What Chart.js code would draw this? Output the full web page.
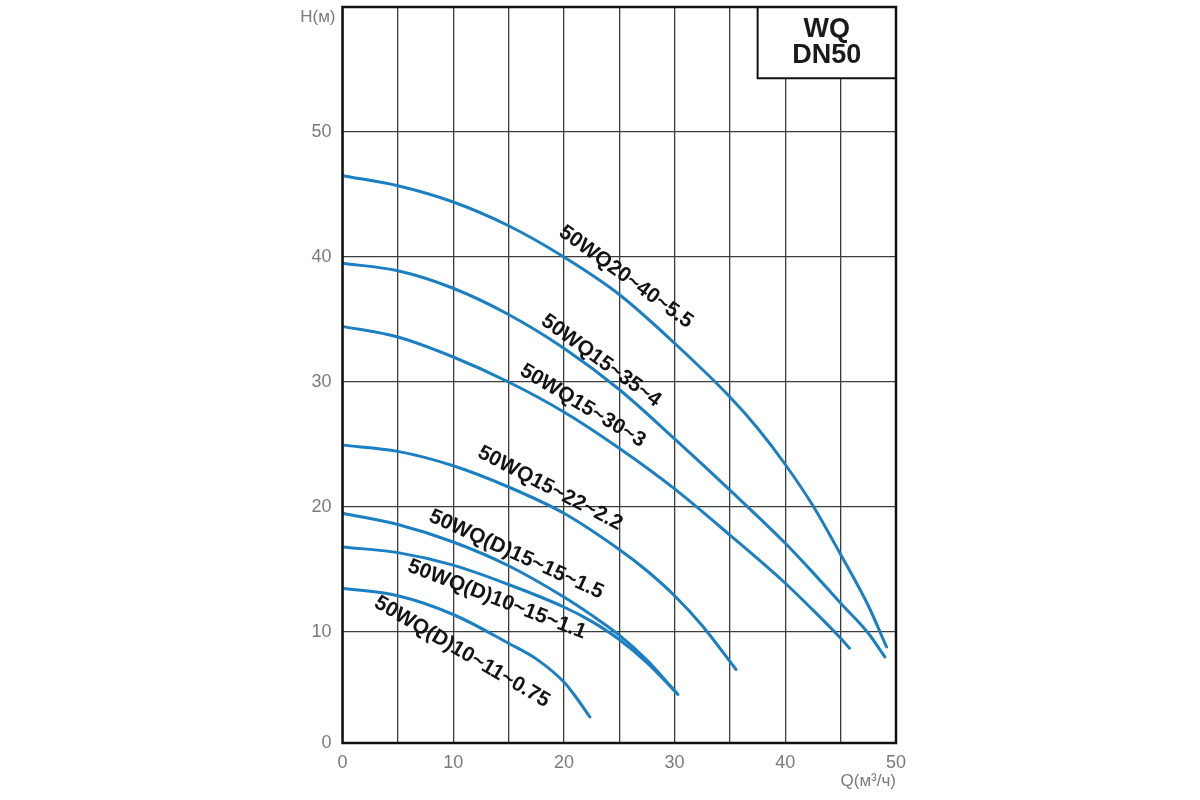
<!DOCTYPE html>
<html>
<head>
<meta charset="utf-8">
<title>WQ DN50</title>
<script src="https://cdn.jsdelivr.net/npm/chart.js@4/dist/chart.umd.min.js"></script>
<style>
  html, body { margin: 0; padding: 0; background: #fff; }
  canvas { display: block; }
</style>
</head>
<body>
<canvas id="pumpChart" width="1200" height="800"></canvas>
<script>
"use strict";

// Curve names (drawn as labels along each curve)
const seriesNames = [
  "50WQ20~40~5.5",
  "50WQ15~35~4",
  "50WQ15~30~3",
  "50WQ15~22~2.2",
  "50WQ(D)15~15~1.5",
  "50WQ(D)10~15~1.1",
  "50WQ(D)10~11~0.75"
];

// Q (m3/h) and H (m), one pair of arrays per pump
const q2040 = [0, 5, 10, 15, 20, 25, 30, 35, 37.5, 40, 42.5, 45, 47.5, 49.15];
const h2040 = [46.5, 45.7, 44.4, 42.5, 40.0, 37.0, 33.1, 28.8, 26.3, 23.4, 20.1, 16.2, 12.1, 8.8];

const q1535 = [0, 5, 10, 15, 20, 25, 30, 35, 40, 42.5, 45, 47.5, 49];
const h1535 = [39.5, 38.9, 37.5, 35.4, 32.7, 29.4, 25.45, 21.35, 17.1, 14.75, 12.3, 9.9, 8.0];

const q1530 = [0, 5, 10, 15, 20, 25, 30, 35, 40, 42.5, 45, 45.8];
const h1530 = [34.45, 33.6, 32.0, 30.0, 27.6, 24.7, 21.45, 17.75, 13.9, 11.75, 9.5, 8.7];

const q1522 = [0, 5, 10, 15, 20, 25, 27.5, 30, 32.5, 35.55];
const h1522 = [24.95, 24.45, 23.3, 21.6, 19.5, 16.6, 14.9, 12.9, 10.5, 7.0];

const q1515 = [0, 5, 10, 15, 20, 22.5, 25, 27.5, 30.3];
const h1515 = [19.5, 18.6, 17.2, 15.3, 12.8, 11.35, 9.75, 7.75, 5.0];

const q1015 = [0, 5, 10, 15, 20, 22.5, 25, 27.5, 30.2];
const h1015 = [16.8, 16.35, 15.35, 13.8, 12.0, 10.85, 9.4, 7.55, 5.1];

const q1011 = [0, 5, 10, 15, 17.5, 20, 21, 22.35];
const h1011 = [13.5, 12.9, 11.4, 9.1, 7.85, 6.0, 4.9, 3.2];

const qSeries = [q2040, q1535, q1530, q1522, q1515, q1015, q1011];
const hSeries = [h2040, h1535, h1530, h1522, h1515, h1015, h1011];

// Label anchor (in data units) and rotation for each curve name
const labelQ = [25.6, 23.35, 21.7, 18.75, 15.7, 13.95, 10.8];
const labelH = [38.4, 31.7, 28.1, 21.5, 16.2, 12.6, 8.4];
const labelAngle = [36, 36, 31, 27.5, 24.4, 21, 30.5];

// Axis ticks
const xTickLabels = [0, 10, 20, 30, 40, 50];
const yTickLabels = [10, 20, 30, 40, 50];
// the original grid's bottom band is short: the "0" sits at about H = 1.1
const yMin = 1.12;
const yMax = 60;

const curveColor = "#1b7fc3";
const gridColor = "#3c3c3c";
const tickColor = "#7a7a7a";
const fontFamily = '"Liberation Sans", Arial, sans-serif';

// Title box corner (data units)
const boxQ = 37.5;
const boxH = 54.3;

const datasets = seriesNames.map((name, i) => ({
  label: name,
  data: qSeries[i].map((q, j) => ({ x: q, y: hSeries[i][j] })),
  borderColor: curveColor,
  borderWidth: 3,
  pointRadius: 0,
  fill: false,
  cubicInterpolationMode: "monotone",
  borderCapStyle: "round"
}));

// Draws frame, title box, axis titles and the curve names
const overlayPlugin = {
  id: "overlay",
  afterDraw(chart) {
    const { ctx, chartArea: a, scales: { x, y } } = chart;
    ctx.save();

    // curve names
    ctx.font = "bold 21px " + fontFamily;
    ctx.fillStyle = "#141414";
    ctx.textAlign = "center";
    ctx.textBaseline = "middle";
    seriesNames.forEach((name, i) => {
      ctx.save();
      ctx.translate(x.getPixelForValue(labelQ[i]), y.getPixelForValue(labelH[i]));
      ctx.rotate(labelAngle[i] * Math.PI / 180);
      ctx.fillText(name, 0, 0);
      ctx.restore();
    });

    // title box
    const bx = x.getPixelForValue(boxQ);
    const by = y.getPixelForValue(boxH);
    ctx.fillStyle = "#fff";
    ctx.fillRect(bx, a.top, a.right - bx, by - a.top);
    ctx.strokeStyle = "#111";
    ctx.lineWidth = 2;
    ctx.strokeRect(bx, a.top, a.right - bx, by - a.top);
    ctx.fillStyle = "#1a1a1a";
    ctx.font = "bold 27px " + fontFamily;
    const cx = (bx + a.right) / 2;
    ctx.fillText("WQ", cx, a.top + 23);
    ctx.fillText("DN50", cx, a.top + 49);

    // plot frame
    ctx.strokeStyle = "#111";
    ctx.lineWidth = 2.5;
    ctx.strokeRect(a.left, a.top, a.right - a.left, a.bottom - a.top);

    // axis titles
    ctx.fillStyle = tickColor;
    ctx.font = "17px " + fontFamily;
    ctx.textAlign = "right";
    ctx.fillText("H(м)", a.left - 7, a.top + 10);
    ctx.fillText("Q(м³/ч)", a.right, a.bottom + 38);

    ctx.restore();
  }
};

const ctx = document.getElementById("pumpChart").getContext("2d");
new Chart(ctx, {
  type: "line",
  data: { datasets: datasets },
  plugins: [overlayPlugin],
  options: {
    responsive: false,
    animation: false,
    layout: { padding: { top: 7, right: 304, bottom: 17, left: 0 } },
    plugins: {
      legend: { display: false },
      tooltip: { enabled: false }
    },
    scales: {
      x: {
        type: "linear",
        min: 0,
        max: 50,
        grid: { color: gridColor, lineWidth: 1.3, drawTicks: false },
        border: { display: false },
        ticks: {
          stepSize: 5,
          padding: 9,
          color: tickColor,
          font: { family: fontFamily, size: 18 },
          maxRotation: 0,
          autoSkip: false,
          callback: v => (xTickLabels.includes(v) ? String(v) : "")
        },
        afterFit: scale => {
          scale.height = 40;
          scale.paddingLeft = 0;
          scale.paddingRight = 0;
        }
      },
      y: {
        type: "linear",
        min: yMin,
        max: yMax,
        grid: { color: gridColor, lineWidth: 1.3, drawTicks: false },
        border: { display: false },
        afterBuildTicks: scale => {
          scale.ticks = [yMin].concat(yTickLabels, [yMax]).map(v => ({ value: v }));
        },
        ticks: {
          padding: 11,
          color: tickColor,
          font: { family: fontFamily, size: 18 },
          autoSkip: false,
          callback: v => (v === yMin ? "0" : v === yMax ? "" : String(v))
        },
        afterFit: scale => {
          scale.width = 342.5;
          scale.paddingTop = 0;
          scale.paddingBottom = 0;
        }
      }
    }
  }
});
</script>
</body>
</html>
